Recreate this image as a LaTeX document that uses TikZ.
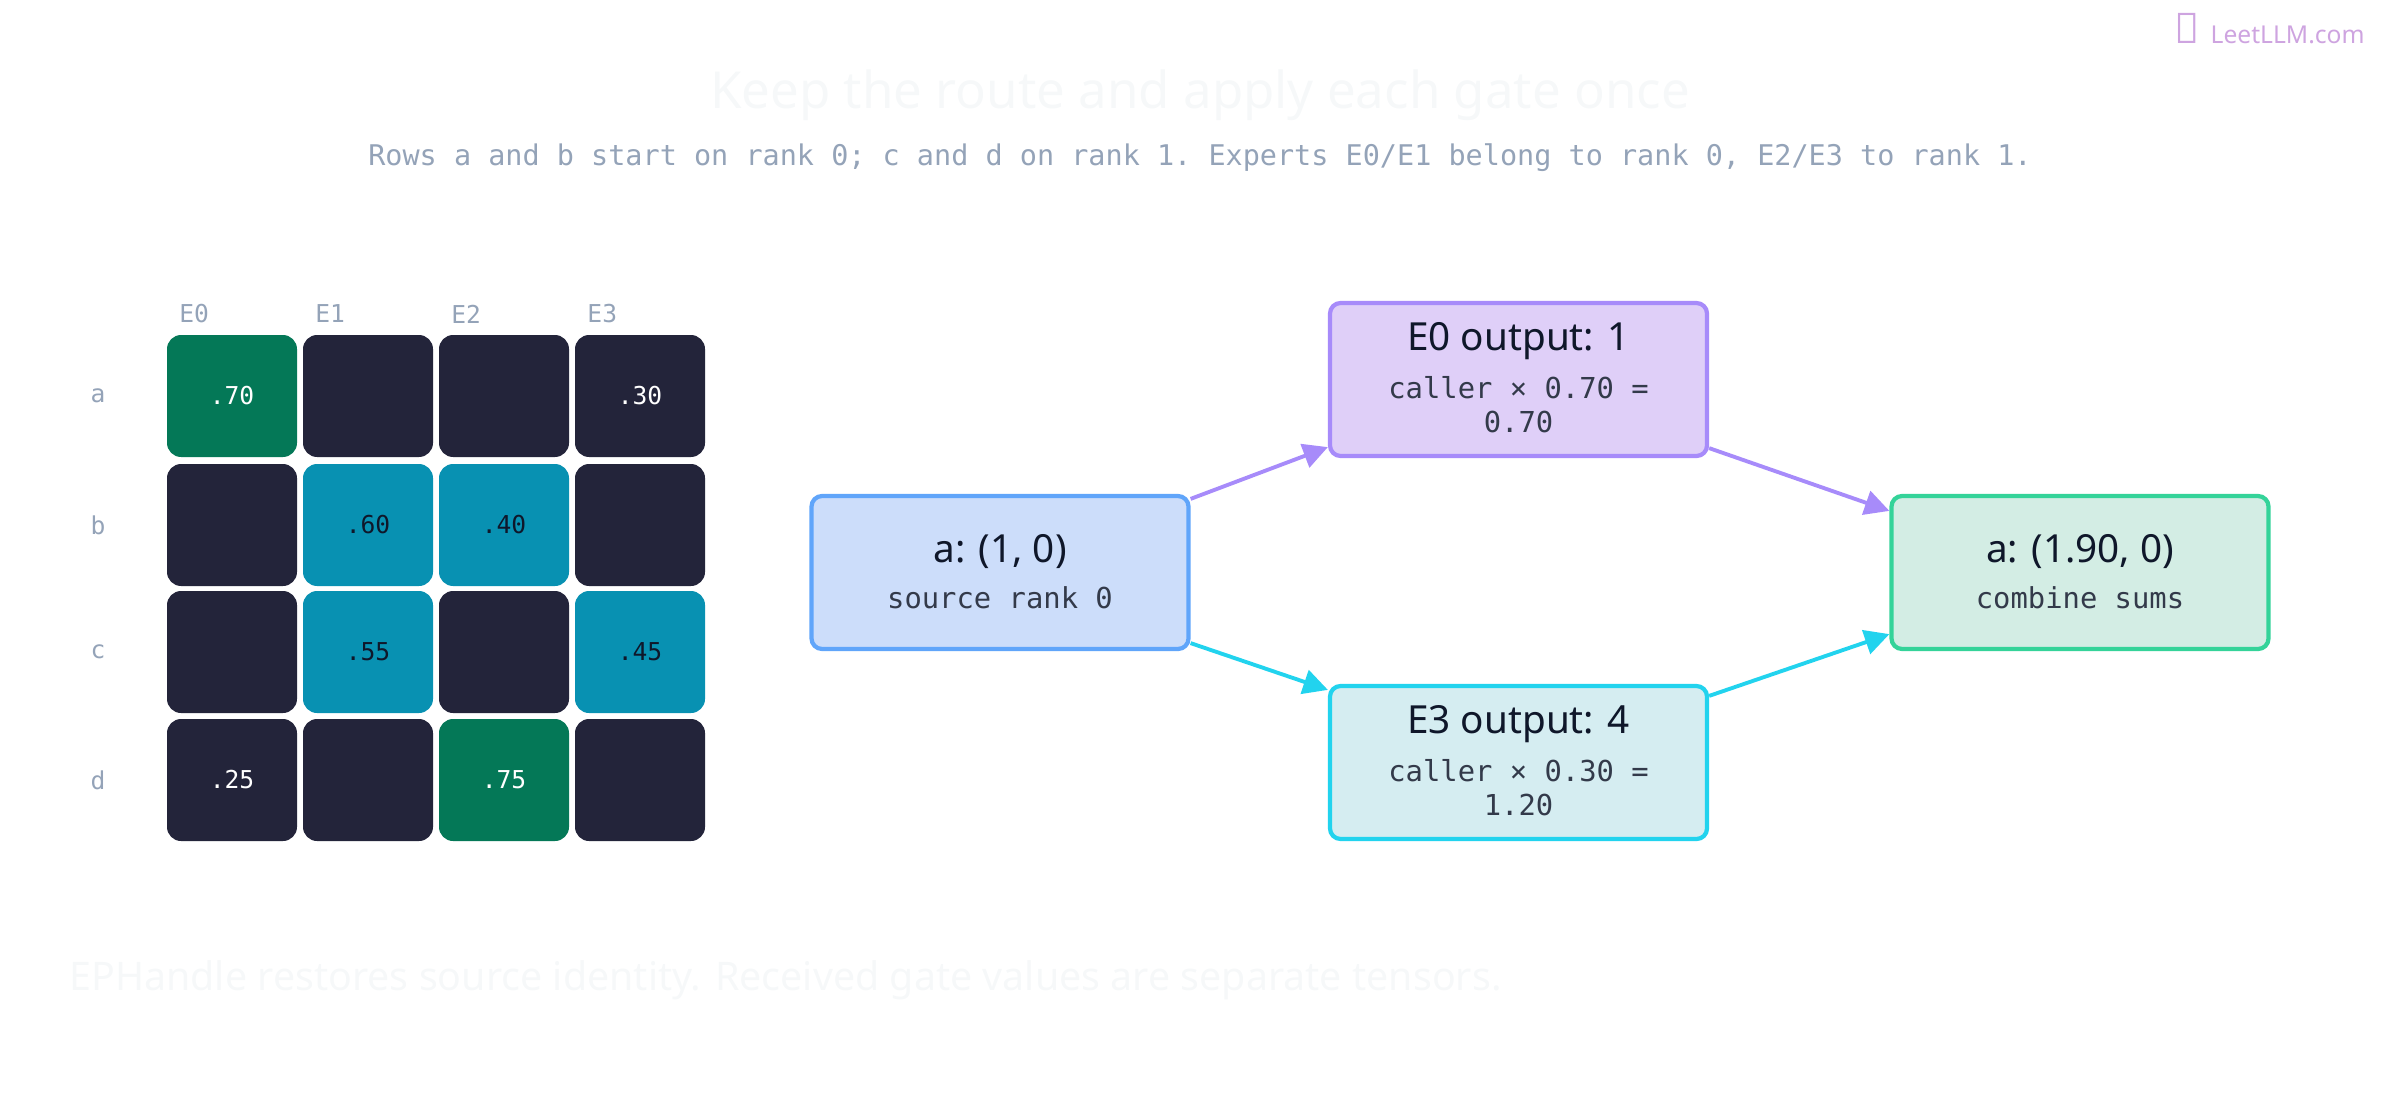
\documentclass[tikz,border=0pt]{standalone}
\usepackage{fontspec}
\setmainfont{Noto Sans}
\setmonofont{DejaVu Sans Mono}
\usetikzlibrary{arrows.meta,calc}
\definecolor{dk}{HTML}{23243A}
\definecolor{gr}{HTML}{047857}
\definecolor{tl}{HTML}{0891B2}
\definecolor{lbl}{HTML}{94A3B8}
\definecolor{txt}{HTML}{0F172A}
\definecolor{pbd}{HTML}{A78BFA}\definecolor{pfl}{HTML}{DFCFF8}
\definecolor{bbd}{HTML}{60A5FA}\definecolor{bfl}{HTML}{CCDDFA}
\definecolor{cbd}{HTML}{22D3EE}\definecolor{cfl}{HTML}{D5EDF1}
\definecolor{gbd}{HTML}{34D399}\definecolor{gfl}{HTML}{D3EDE4}
\begin{document}
\begin{tikzpicture}[x=0.01cm,y=-0.01cm,
 cell/.style={rounded corners=5pt,minimum width=130\pgflinewidth,inner sep=0,outer sep=0},
 lab/.style={font=\ttfamily\fontsize{7}{8}\selectfont,text=lbl},
 box/.style={draw,line width=1.2pt,rounded corners=3pt,minimum width=377*0.01cm,minimum height=153*0.01cm,align=center,inner sep=0},
 hd/.style={font=\bfseries\fontsize{11}{13}\selectfont,text=txt},
 arr/.style={line width=1.1pt,-{Triangle[length=7pt,width=7pt]}}]
\useasboundingbox (0,0) rectangle (2400,1100);
\node[text=white!92!lbl,font=\bfseries\fontsize{14.5}{16}\selectfont] (title) at (1200,95) {Keep the route and apply each gate once};
\node[lab,font=\ttfamily\fontsize{8.1}{10}\selectfont] (sub) at (1200,158) {Rows a and b start on rank 0; c and d on rank 1. Experts E0/E1 belong to rank 0, E2/E3 to rank 1.};
\node[anchor=east,text=purple!25!pbd!60,font=\bfseries\fontsize{7}{8}\selectfont] (logo) at (2377,29) {\textbf{\large\char"2728}\, LeetLLM.com};
\node[anchor=west,text=white!92!lbl,font=\fontsize{11.2}{13}\selectfont] (foot) at (57,980) {EPHandle restores source identity. Received gate values are separate tensors.};
% grid
\foreach \c/\x in {0/167,1/303,2/439,3/575}{\node[lab,anchor=west] (h\c) at (\x,314) {E\c};}
\foreach \r/\n/\y in {0/a/335,1/b/464,2/c/591,3/d/719}{\node[lab] (r\r) at (98,\y+61) {\n};}
\def\cellx#1#2#3#4#5{\fill[#3,rounded corners=4pt] (#1,#2) rectangle ++(130,122);
 \node[font=\ttfamily\fontsize{7}{8}\selectfont,text=#4] (c#1#2) at (#1+65,#2+61) {#5};}
\cellx{167}{335}{gr}{white}{.70}\cellx{303}{335}{dk}{white}{}\cellx{439}{335}{dk}{white}{}\cellx{575}{335}{dk}{white}{.30}
\cellx{167}{464}{dk}{white}{}\cellx{303}{464}{tl}{txt}{.60}\cellx{439}{464}{tl}{txt}{.40}\cellx{575}{464}{dk}{white}{}
\cellx{167}{591}{dk}{white}{}\cellx{303}{591}{tl}{txt}{.55}\cellx{439}{591}{dk}{white}{}\cellx{575}{591}{tl}{txt}{.45}
\cellx{167}{719}{dk}{white}{.25}\cellx{303}{719}{dk}{white}{}\cellx{439}{719}{gr}{white}{.75}\cellx{575}{719}{dk}{white}{}
% boxes
\node[box,draw=bbd,fill=bfl] (src) at (1000,572.5) {};
\node[hd] at (1000,552) {a: (1, 0)};
\node[font=\ttfamily\fontsize{8.2}{10}\selectfont,text=txt!85] at (1000,598) {source rank 0};
\node[box,draw=pbd,fill=pfl] (e0) at (1518.5,379.5) {};
\node[hd] at (1518.5,341) {E0 output: 1};
\node[font=\ttfamily\fontsize{8.2}{10}\selectfont,text=txt!85] at (1518.5,388) {caller × 0.70 =};
\node[font=\ttfamily\fontsize{8.2}{10}\selectfont,text=txt!85] at (1518.5,422) {0.70};
\node[box,draw=cbd,fill=cfl] (e3) at (1518.5,762.5) {};
\node[hd] at (1518.5,724) {E3 output: 4};
\node[font=\ttfamily\fontsize{8.2}{10}\selectfont,text=txt!85] at (1518.5,771) {caller × 0.30 =};
\node[font=\ttfamily\fontsize{8.2}{10}\selectfont,text=txt!85] at (1518.5,805) {1.20};
\node[box,draw=gbd,fill=gfl] (res) at (2080,572.5) {};
\node[hd] at (2080,552) {a: (1.90, 0)};
\node[font=\ttfamily\fontsize{8.2}{10}\selectfont,text=txt!85] at (2080,598) {combine sums};
% arrows
\draw[arr,pbd] ($(src.north east)+(0,5)$) -- ($(e0.south west)+(0,-11)$);
\draw[arr,cbd] ($(src.south east)+(0,-8)$) -- ($(e3.north west)+(0,6)$);
\draw[arr,pbd] ($(e0.south east)+(0,-10)$) -- ($(res.north west)+(0,17)$);
\draw[arr,cbd] ($(e3.north east)+(0,12)$) -- ($(res.south west)+(0,-17)$);
\end{tikzpicture}
\end{document}
